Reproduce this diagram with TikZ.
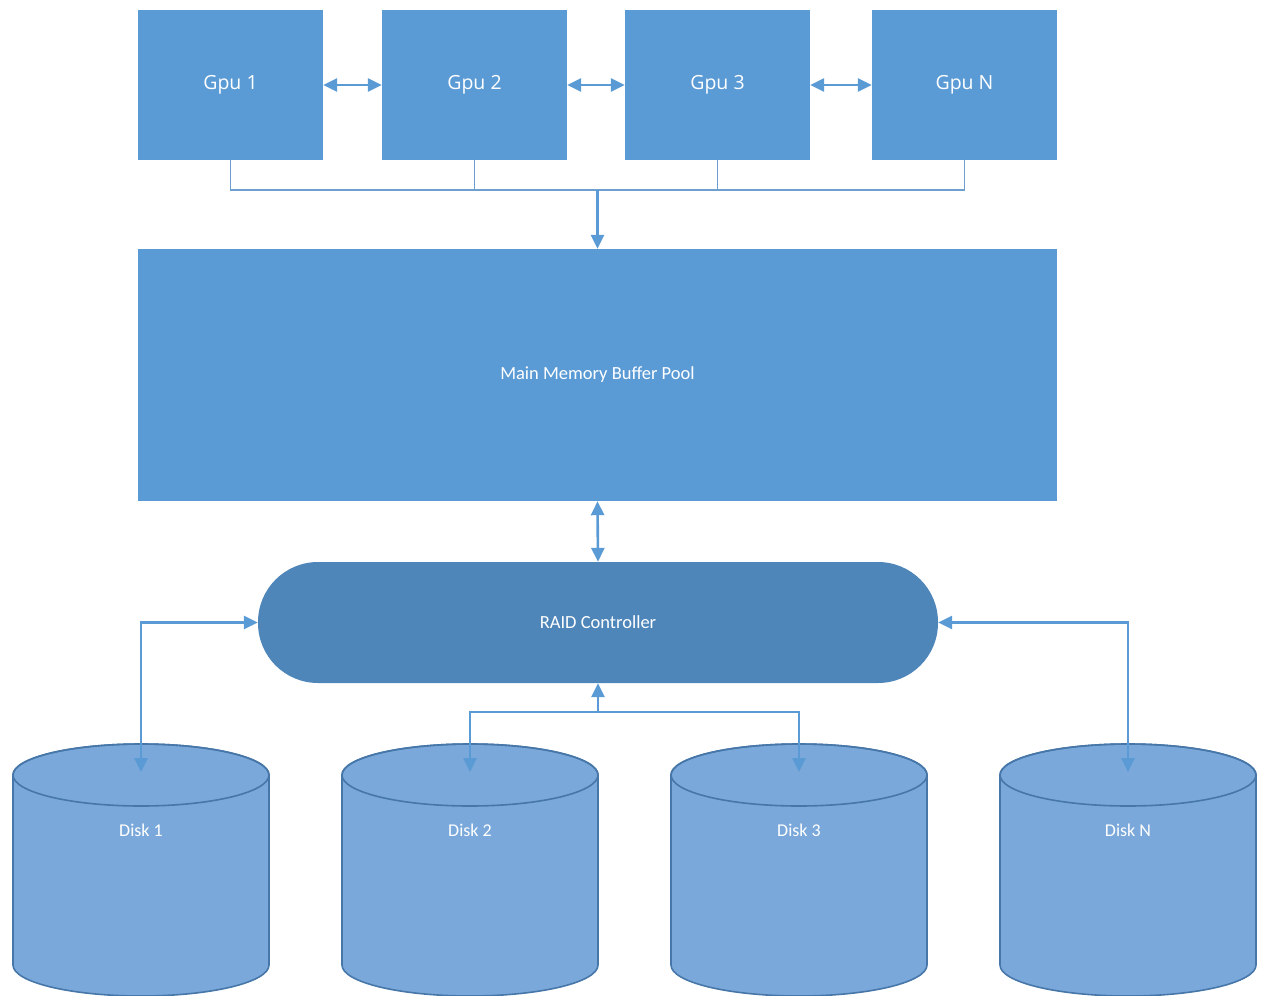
\documentclass[tikz,border=0pt]{standalone}
\usepackage{fontspec}
\setmainfont{Carlito}
\newfontfamily\gpufont{Open Sans}
\usetikzlibrary{arrows.meta,calc}
\definecolor{boxblue}{HTML}{5B9BD5}
\definecolor{raidblue}{HTML}{4E86BA}
\definecolor{diskblue}{HTML}{7AA8DA}
\definecolor{diskedge}{HTML}{4677A8}
\definecolor{lineblue}{HTML}{5B9BD5}
\definecolor{busblue}{HTML}{6E9FD0}
\tikzset{
  gpubox/.style={rectangle, fill=boxblue, minimum width=185pt, minimum height=150pt,
    inner sep=0pt, text=white, font=\gpufont\fontsize{19.5}{22}\selectfont},
  membox/.style={rectangle, fill=boxblue, minimum width=919pt, minimum height=252pt,
    inner sep=0pt, text=white, font=\fontsize{18.5}{20}\selectfont},
  raidbox/.style={rectangle, rounded corners=60pt, fill=raidblue, minimum width=680pt,
    minimum height=121pt, inner sep=0pt, text=white, font=\fontsize{18.5}{20}\selectfont},
  disklabel/.style={inner sep=0pt, text=white, font=\fontsize{18}{20}\selectfont},
  diskbody/.style={fill=diskblue, draw=diskedge, line width=1.6pt},
  link/.style={draw=lineblue, line width=2.6pt},
  tip/.style={-{Triangle[length=14pt,width=13pt]}},
  biarrow/.style={link, {Triangle[length=14pt,width=13pt]}-{Triangle[length=14pt,width=13pt]}},
  bus/.style={draw=busblue, line width=1.4pt},
}
\begin{document}
\begin{tikzpicture}[x=1pt,y=-1pt]
\useasboundingbox (0,0) rectangle (1264,996);
% GPUs
\node[gpubox] (gpu1) at (230.5,85) {Gpu 1};
\node[gpubox] (gpu2) at (474.5,85) {Gpu 2};
\node[gpubox] (gpu3) at (717.5,85) {Gpu 3};
\node[gpubox] (gpuN) at (964.5,85) {Gpu N};
% memory
\node[membox] (mem) at (597.5,375) {Main Memory Buffer Pool};
% raid
\node[raidbox] (raid) at (598,622.5) {RAID Controller};
% disks
\foreach \cx/\nm/\lab in {141/disk1/Disk 1, 470/disk2/Disk 2, 799/disk3/Disk 3, 1128/diskN/Disk N}{
  \path[diskbody] (\cx-128,775) -- (\cx-128,965)
     arc[start angle=180, end angle=360, x radius=128pt, y radius=31pt]
     -- (\cx+128,775)
     arc[start angle=0, end angle=180, x radius=128pt, y radius=31pt] -- cycle;
  \draw[diskedge, line width=1.6pt] (\cx,775) ellipse [x radius=128pt, y radius=31pt];
  \node[disklabel] (\nm) at (\cx,830) {\lab};
  \coordinate (\nm in) at (\cx,772);
}
% GPU links
\draw[biarrow] (gpu1.east) -- (gpu2.west);
\draw[biarrow] (gpu2.east) -- (gpu3.west);
\draw[biarrow] (gpu3.east) -- (gpuN.west);
% bus
\coordinate (busM) at (597.5,190);
\draw[bus] (gpu1.south) -- (gpu1.south |- busM) -- (gpuN.south |- busM) -- (gpuN.south);
\draw[bus] (gpu2.south) -- (gpu2.south |- busM);
\draw[bus] (gpu3.south) -- (gpu3.south |- busM);
\draw[link,tip] (busM) -- (mem.north);
% memory - raid
\draw[biarrow] (mem.south) -- (raid.north);
% raid - disks
\draw[biarrow] (raid.west) -| (disk1in);
\draw[biarrow] (raid.east) -| (diskNin);
\coordinate (jn) at (598,712);
\draw[link,tip] (jn) -- (raid.south);
\draw[link,tip] (jn) -| (disk2in);
\draw[link,tip] (jn) -| (disk3in);
\end{tikzpicture}
\end{document}
